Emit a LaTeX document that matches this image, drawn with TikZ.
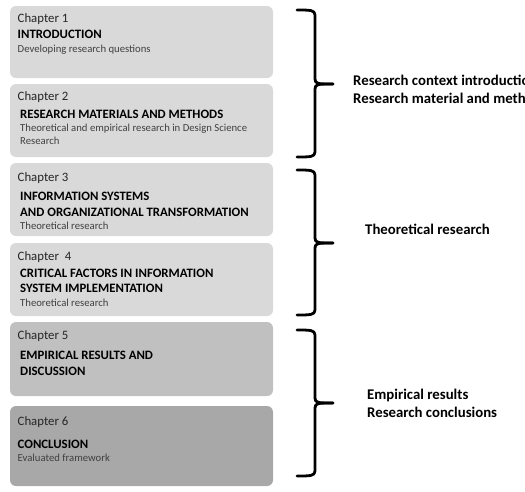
\documentclass[tikz,border=0pt]{standalone}
\usepackage{fontspec}
\setmainfont{Carlito}
\begin{document}
\begin{tikzpicture}[x=1pt,y=-1pt,
  chbox/.style={rounded corners=6pt},
  chlabel/.style={anchor=base west,inner sep=0pt,font=\fontsize{12.8}{14}\selectfont,text=black!85},
  chtitle/.style={anchor=base west,inner sep=0pt,font=\fontsize{12.8}{14}\selectfont\bfseries,text=black},
  chsub/.style={anchor=base west,inner sep=0pt,font=\fontsize{10.7}{12}\selectfont,text=black!75},
  side/.style={anchor=west,inner sep=0pt,align=left,font=\fontsize{14.8}{18}\selectfont\bfseries,text=black},
  brace/.style={line width=2.8pt,line cap=round,line join=round}]
\useasboundingbox (0,0) rectangle (525,491);
\fill[white] (0,0) rectangle (525,491);
\definecolor{boxA}{HTML}{D9D9D9}
\definecolor{boxB}{HTML}{C0C0C0}
\definecolor{boxC}{HTML}{A8A8A8}
% boxes
\fill[boxA,chbox] (10,6) rectangle (273,78);
\fill[boxA,chbox] (10,84) rectangle (273,157);
\fill[boxA,chbox] (10,163) rectangle (273,236);
\fill[boxA,chbox] (10,243) rectangle (273,316);
\fill[boxB,chbox] (10,322) rectangle (273,396);
\fill[boxC,chbox] (10,406) rectangle (273,486);
% box 1
\node[chlabel] (c1) at (17.5,22) {Chapter 1};
\node[chtitle] (t1) at (17.5,38.5) {INTRODUCTION};
\node[chsub] (s1) at (17.5,52.5) {Developing research questions};
% box 2
\node[chlabel] (c2) at (17.5,100.5) {Chapter 2};
\node[chtitle] (t2) at (20,118) {RESEARCH MATERIALS AND METHODS};
\node[chsub] (s2a) at (20,131) {Theoretical and empirical research in Design Science};
\node[chsub] (s2b) at (20,144) {Research};
% box 3
\node[chlabel] (c3) at (17.5,181.5) {Chapter 3};
\node[chtitle] (t3a) at (20,200.5) {INFORMATION SYSTEMS};
\node[chtitle] (t3b) at (20,216) {AND ORGANIZATIONAL TRANSFORMATION};
\node[chsub] (s3) at (20,229.5) {Theoretical research};
% box 4
\node[chlabel] (c4) at (17.5,260) {Chapter\ \ 4};
\node[chtitle] (t4a) at (20,277) {CRITICAL FACTORS IN INFORMATION};
\node[chtitle] (t4b) at (20,292.5) {SYSTEM IMPLEMENTATION};
\node[chsub] (s4) at (20,306) {Theoretical research};
% box 5
\node[chlabel] (c5) at (17.5,339.5) {Chapter 5};
\node[chtitle] (t5a) at (20,359.5) {EMPIRICAL RESULTS AND};
\node[chtitle] (t5b) at (20,375.5) {DISCUSSION};
% box 6
\node[chlabel] (c6) at (17.5,425) {Chapter 6};
\node[chtitle] (t6) at (17.5,448.5) {CONCLUSION};
\node[chsub] (s6) at (17.5,461.5) {Evaluated framework};
% braces
\foreach \top/\mid/\bot in {10/84/157, 170/243/315, 330/403/476}{
  \draw[brace] (297,\top) .. controls (310,\top) and (315,\top) .. (315,\top+5)
     -- (315,\mid-5) .. controls (315,\mid) and (318,\mid) .. (333,\mid);
  \draw[brace] (297,\bot) .. controls (310,\bot) and (315,\bot) .. (315,\bot-5)
     -- (315,\mid+5) .. controls (315,\mid) and (318,\mid) .. (333,\mid);
}
% side labels
\node[side] (r1) at (353,89) {Research context introduction\\Research material and methods};
\node[side] (r2) at (365,229) {Theoretical research};
\node[side] (r3) at (367,403) {Empirical results\\Research conclusions};
\end{tikzpicture}
\end{document}
